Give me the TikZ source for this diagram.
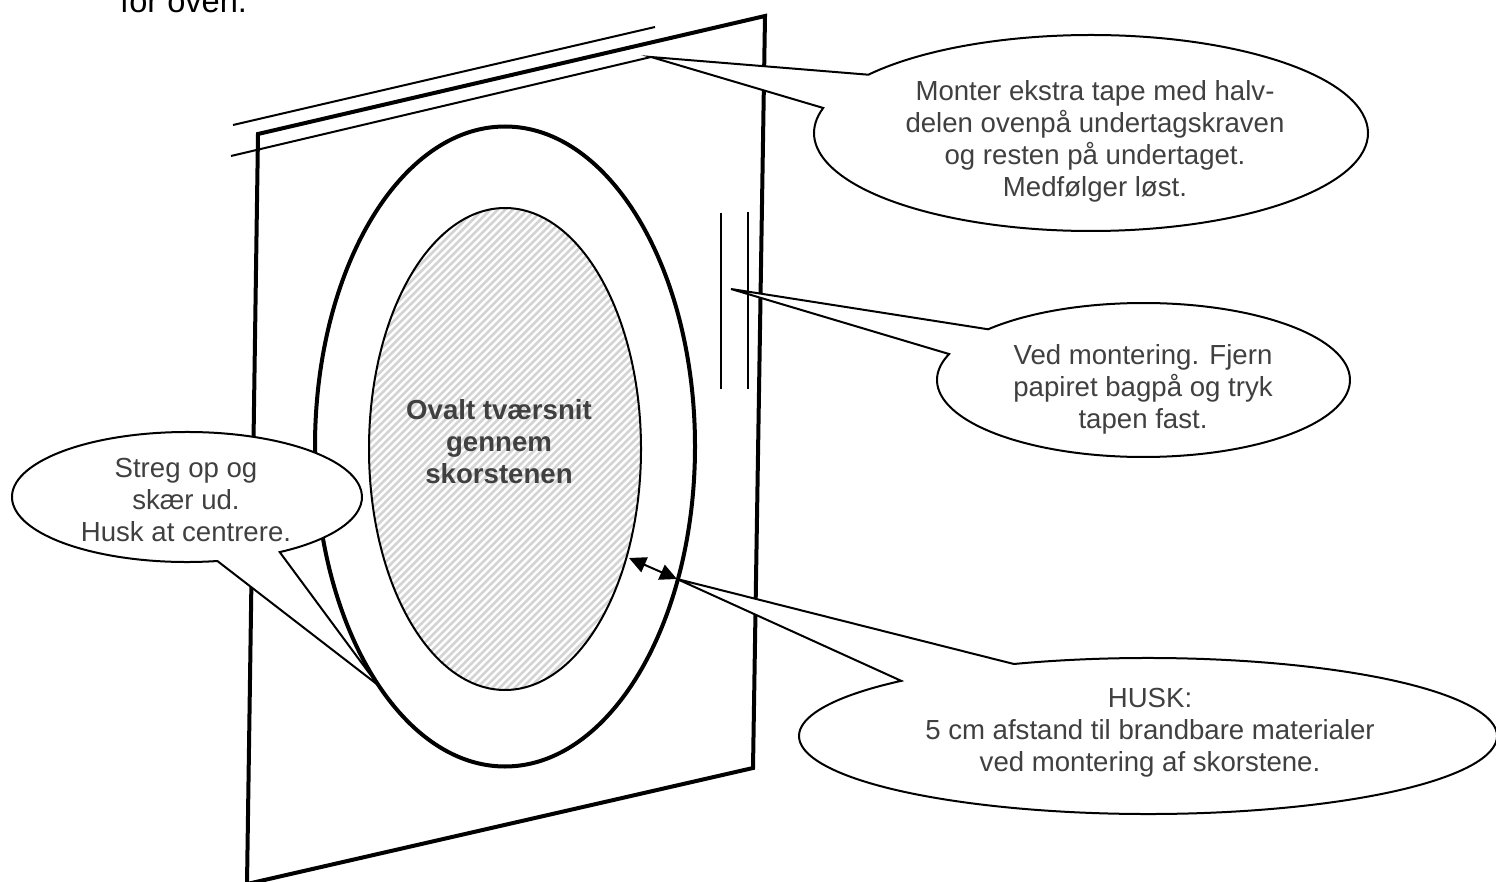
\documentclass[tikz,border=0pt]{standalone}
\usepackage{fontspec}
\setmainfont{Liberation Sans}
\usetikzlibrary{arrows.meta}
\definecolor{txt}{HTML}{404040}
\definecolor{hatch}{HTML}{D4D4D4}
\tikzset{
  x=1pt,y=-1pt,
  sheet/.style={draw=black,line width=4pt,line join=miter},
  thickoval/.style={draw=black,line width=4pt},
  thinline/.style={draw=black,line width=2pt},
  callout/.style={draw=black,line width=2pt,fill=white,line join=miter},
  lbl/.style={text=txt,align=center,font=\fontsize{27.6}{32}\selectfont,inner sep=0pt},
  boldlbl/.style={text=txt,align=center,font=\fontsize{27.6}{32}\selectfont\bfseries,inner sep=0pt},
  both/.style={line width=2pt,{Triangle[length=17pt,width=16pt]}-{Triangle[length=17pt,width=16pt]}}
}
% #1 centre x, #2 centre y, #3 rx, #4 ry, #5 start angle, #6 end angle, #7 tip
\newcommand{\bubble}[7]{%
  \draw[callout] (#7) -- ({#1+#3*cos(#5)},{#2+#4*sin(#5)})
    arc[start angle=#5,end angle=#6,x radius=#3,y radius=#4] -- cycle;}
\begin{document}
\begin{tikzpicture}
\useasboundingbox (0,0) rectangle (1496,882);
\node[anchor=base west,inner sep=0pt,text=black,font=\fontsize{32.6}{36}\selectfont] (head) at (120,13) {for oven.};
\begin{scope}
\clip (0,0) rectangle (1496,882);
\draw[sheet] (247,884) -- (258,134) -- (765,16) -- (753,768) -- cycle;
\end{scope}
\coordinate (t1a) at (233,125); \coordinate (t1b) at (655,27);
\coordinate (t2a) at (231,156); \coordinate (t2b) at (651,57);
\draw[thinline] (t1a) -- (t1b);
\draw[thinline] (t2a) -- (t2b);
\coordinate (v1a) at (721,213); \coordinate (v1b) at (721,389);
\coordinate (v2a) at (748,212); \coordinate (v2b) at (748,389);
\draw[thinline] (v1a) -- (v1b);
\draw[thinline] (v2a) -- (v2b);
\draw[thickoval] (505,446.5) ellipse[x radius=190,y radius=320];
\begin{scope}
\clip (505,449) ellipse[x radius=136,y radius=241];
\foreach \k in {0,1,...,160}{
  \draw[hatch,line width=2.8pt] ({-160+7.5*\k},710) -- ({-160+7.5*\k+520},190);
}
\end{scope}
\draw[thinline] (505,449) ellipse[x radius=136,y radius=241];
\coordinate (arrL) at (629,558); \coordinate (arrR) at (677,579);
\draw[both] (arrL) -- (arrR);
\coordinate (tip1) at (651,57);
\coordinate (tip2) at (731,289);
\coordinate (tip3) at (677,579);
\coordinate (tip4) at (378,685);
\bubble{1091}{133}{277}{98}{-143.5}{194.8}{tip1}
\bubble{1143.5}{380}{206.5}{77}{-138.8}{199.7}{tip2}
\bubble{1148}{736}{349}{78}{-112.6}{225}{tip3}
\bubble{187}{497}{175}{65}{80}{418}{tip4}
\node[lbl] (n1) at (1095,141.5) {Monter ekstra tape med halv-\\delen ovenpå undertagskraven\\og resten på undertaget.\\Medfølger løst.};
\node[lbl] (n2) at (1143,389) {Ved montering. Fjern\\papiret bagpå og tryk\\tapen fast.};
\node[lbl] (n3) at (1150,733) {HUSK:\\5 cm afstand til brandbare materialer\\ved montering af skorstene.};
\node[lbl] (n4) at (186,500) {Streg op og\\skær ud.\\Husk at centrere.};
\node[boldlbl] (n5) at (499,442) {Ovalt tværsnit\\gennem\\skorstenen};
\end{tikzpicture}
\end{document}
